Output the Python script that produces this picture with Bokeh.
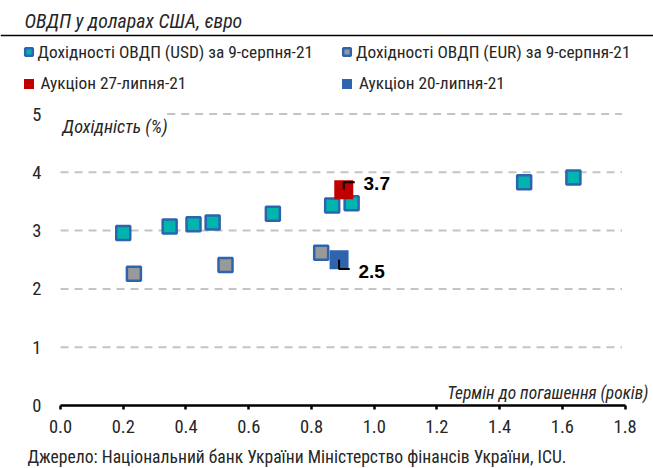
from bokeh.plotting import figure
from bokeh.models import (Range1d, FixedTicker, PrintfTickFormatter, Label,
                          Legend, LegendItem, Span)
from bokeh.embed import file_html
from bokeh.resources import INLINE

# ---- data ----
usd_term = [0.200, 0.348, 0.424, 0.485, 0.677, 0.866, 0.928, 1.478, 1.635]
usd_yield = [2.96, 3.07, 3.11, 3.14, 3.29, 3.43, 3.47, 3.83, 3.91]
eur_term = [0.234, 0.526, 0.831]
eur_yield = [2.26, 2.41, 2.62]
auc27_term = [0.903]
auc27_yield = [3.7]
auc20_term = [0.888]
auc20_yield = [2.5]
x_ticks = [0.0, 0.2, 0.4, 0.6, 0.8, 1.0, 1.2, 1.4, 1.6, 1.8]
y_ticks = [0, 1, 2, 3, 4, 5]

title_text = "ОВДП у доларах США, євро"
legend_labels = ["Дохідності ОВДП (USD) за 9-серпня-21",
                 "Дохідності ОВДП (EUR) за 9-серпня-21",
                 "Аукціон 27-липня-21",
                 "Аукціон 20-липня-21"]
y_title = "Дохідність (%)"
x_title = "Термін до погашення (років)"
source_text = "Джерело: Національний банк України  Міністерство фінансів України, ICU."

COND = "Roboto Condensed"
TXT = "#262626"
TEAL = "#00B5AD"
GRAY = "#999999"
EDGE = "#2E64AE"
RED = "#C00000"
BLUE = "#2E64AE"

# canvas; data origin at canvas (60, 405); 313.7 px per year, 58.3 px per %
W, H = 653, 468
PXX, PXY = 313.7, 58.3
OX, OY = 60, 405


def cx(px):  # canvas x -> data x
    return (px - OX) / PXX


def cy(py):  # canvas y -> data y
    return (OY - py) / PXY


p = figure(width=W, height=H, output_backend="svg", toolbar_location=None,
           x_range=Range1d(cx(0), cx(W)), y_range=Range1d(cy(H), cy(0)),
           min_border=0)
p.outline_line_color = None
p.xgrid.visible = False
p.ygrid.visible = False

# axes (fixed at the origin, inside the full-canvas frame)
xa = p.xaxis[0]
xa.fixed_location = 0
xa.bounds = (x_ticks[0], x_ticks[-1])
xa.ticker = FixedTicker(ticks=x_ticks)
xa.formatter = PrintfTickFormatter(format="%.1f")
xa.axis_line_color = "black"
xa.axis_line_width = 2.5
xa.major_tick_line_color = "black"
xa.major_tick_line_width = 2.5
xa.major_tick_out = 4
xa.major_tick_in = 0
xa.minor_tick_line_color = None
xa.major_label_standoff = 10
xa.major_label_text_font = COND
xa.major_label_text_font_size = "18.5px"
xa.major_label_text_color = TXT

ya = p.yaxis[0]
ya.fixed_location = 0
ya.ticker = FixedTicker(ticks=y_ticks)
ya.axis_line_color = None
ya.major_tick_line_color = None
ya.minor_tick_line_color = None
ya.major_label_standoff = 13
ya.major_label_text_font = COND
ya.major_label_text_font_size = "18.5px"
ya.major_label_text_color = TXT

# dashed grid lines
grid_y = y_ticks[1:]
grid_x0 = [0, 0, 0, 0, 0.34]
grid_x1 = [1.79] * len(grid_y)
p.segment(x0=grid_x0, y0=grid_y, x1=grid_x1, y1=grid_y,
          line_color="#c4c4c4", line_width=2, line_dash="8 6")

# markers
r_usd = p.scatter(usd_term, usd_yield, marker="square", size=14,
                  fill_color=TEAL, line_color=EDGE, line_width=2.5)
r_eur = p.scatter(eur_term, eur_yield, marker="square", size=14,
                  fill_color=GRAY, line_color=EDGE, line_width=2.5)
r_20 = p.scatter(auc20_term, auc20_yield, marker="square", size=19,
                 fill_color=BLUE, line_color=None)
r_27 = p.scatter(auc27_term, auc27_yield, marker="square", size=19,
                 fill_color=RED, line_color=None)

# leader lines and value labels
a27x, a27y = auc27_term[0], auc27_yield[0]
a20x, a20y = auc20_term[0], auc20_yield[0]
p.line([a27x, a27x, a27x + 0.035], [a27y, a27y + 0.13, a27y + 0.13],
       line_color="black", line_width=2)
p.line([a20x, a20x, a20x + 0.034], [a20y, a20y - 0.16, a20y - 0.16],
       line_color="black", line_width=2)
p.add_layout(Label(x=a27x + 0.063, y=a27y + 0.11, text=f"{a27y:.1f}",
                   text_font="Liberation Sans", text_font_style="bold",
                   text_font_size="19px", text_color="black",
                   text_baseline="middle"))
p.add_layout(Label(x=a20x + 0.062, y=a20y - 0.20, text=f"{a20y:.1f}",
                   text_font="Liberation Sans", text_font_style="bold",
                   text_font_size="19px", text_color="black",
                   text_baseline="middle"))

# title, rule, axis titles, source
p.add_layout(Label(x=cx(24), y=cy(21), text=title_text, text_font=COND,
                   text_font_style="italic", text_font_size="19.8px",
                   text_color=TXT, text_baseline="middle"))
p.add_layout(Span(location=cy(35), dimension="width", line_color="black",
                  line_width=1.5))
p.add_layout(Label(x=cx(62), y=cy(126), text=y_title, text_font=COND,
                   text_font_style="italic", text_font_size="18.2px",
                   text_color=TXT, text_baseline="middle"))
p.add_layout(Label(x=cx(648), y=cy(392), text=x_title, text_font=COND,
                   text_font_style="italic", text_font_size="17.4px",
                   text_color=TXT, text_baseline="middle", text_align="right"))
p.add_layout(Label(x=cx(27), y=cy(456), text=source_text, text_font=COND,
                   text_font_size="17.6px", text_color=TXT,
                   text_baseline="middle"))


# legends: one per entry so each swatch can be sized/placed like the original
def make_legend(label, renderer, mx, my, box, text_x):
    return Legend(items=[LegendItem(label=label, renderers=[renderer])],
                  location=(mx - box / 2, H - (my + box / 2)),
                  orientation="vertical", padding=0, margin=0, spacing=0,
                  glyph_width=box, glyph_height=box, label_height=box,
                  label_standoff=int(round(text_x - (mx + box / 2))),
                  label_text_font=COND, label_text_font_size="17.3px",
                  label_text_color=TXT, background_fill_alpha=0,
                  border_line_color=None)


p.add_layout(make_legend(legend_labels[0], r_usd, 28, 52, 19, 38), "center")
p.add_layout(make_legend(legend_labels[1], r_eur, 346.5, 52, 19, 356), "center")
p.add_layout(make_legend(legend_labels[2], r_27, 28, 83, 25, 38), "center")
p.add_layout(make_legend(legend_labels[3], r_20, 346.5, 83, 25, 356), "center")

open("out.html", "w").write(file_html(p, INLINE))
